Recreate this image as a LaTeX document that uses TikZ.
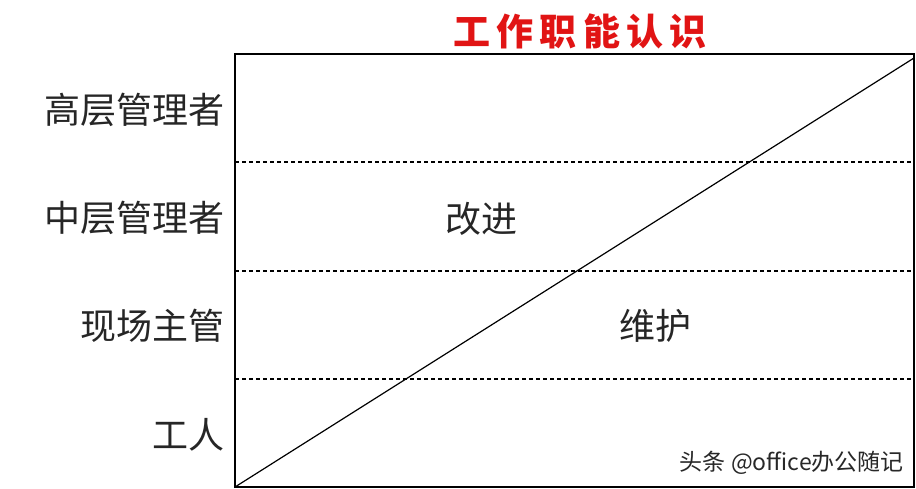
\documentclass[tikz,border=0pt]{standalone}
\usepackage{fontspec}
\newfontfamily\cjk{Noto Sans CJK SC}
\newfontfamily\cjkt[LetterSpace=17]{Noto Sans CJK SC}
\definecolor{titlered}{RGB}{225,20,20}
\definecolor{wmgray}{RGB}{40,40,40}
\begin{document}
\begin{tikzpicture}[x=1pt,y=-1pt,
  lbl/.style={font=\cjk\fontsize{36}{40}\selectfont, text=black!85, inner sep=0pt},
  rowlbl/.style={lbl, anchor=east},
  boxline/.style={line width=1.6pt},
  sepline/.style={line width=1.5pt, dash pattern=on 4pt off 3pt},
  diag/.style={line width=1.2pt}]
\useasboundingbox[fill=white] (0,0) rectangle (916,488);
% box corners
\coordinate (tl) at (235,54);
\coordinate (br) at (914,487);
\coordinate (bl) at (235,487);
\coordinate (tr) at (914,54);
\draw[boxline] (tl) rectangle (br);
% separators
\coordinate (s1l) at (235,162); \coordinate (s1r) at (914,162);
\coordinate (s2l) at (235,271); \coordinate (s2r) at (914,271);
\coordinate (s3l) at (235,379); \coordinate (s3r) at (914,379);
\draw[sepline] (s1l) -- (s1r);
\draw[sepline] (s2l) -- (s2r);
\draw[sepline] (s3l) -- (s3r);
% diagonal
\coordinate (dend) at (914,58);
\draw[diag] (bl) -- (dend);
% title
\node[font=\cjkt\bfseries\fontsize{37}{40}\selectfont, text=titlered, inner sep=0pt] (title) at (580,31) {工作职能认识};
% row labels
\node[rowlbl] (r1) at (225,110) {高层管理者};
\node[rowlbl] (r2) at (225,218) {中层管理者};
\node[rowlbl] (r3) at (225,326) {现场主管};
\node[rowlbl] (r4) at (225,435) {工人};
% area labels
\node[lbl] (gj) at (481,219) {改进};
\node[lbl] (wh) at (655,326) {维护};
% watermark
\node[font=\cjk\fontsize{23}{26}\selectfont, text=wmgray, anchor=east, inner sep=0pt] (wm) at (904,463) {头条 @office办公随记};
\end{tikzpicture}
\end{document}
